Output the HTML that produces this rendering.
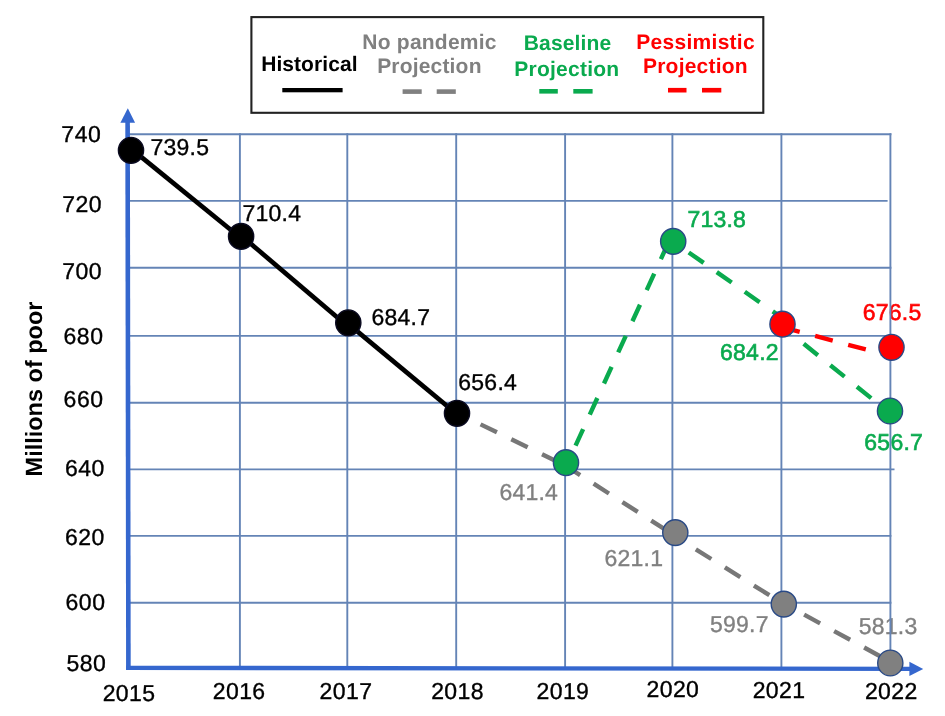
<!DOCTYPE html>
<html><head><meta charset="utf-8"><title>Millions of poor</title>
<style>
html,body{margin:0;padding:0;background:#fff;}
body{width:945px;height:716px;overflow:hidden;}
svg{display:block;font-family:"Liberation Sans",sans-serif;filter:blur(0.45px);text-rendering:geometricPrecision;}
</style></head><body>
<svg width="945" height="716" viewBox="0 0 945 716">
<rect width="945" height="716" fill="#fff"/>
<text id="d739.5" x="150.57" y="155.00" fill="#000" style="font-size:23px;letter-spacing:0.22px;stroke:#000;stroke-width:0.35px;">739.5</text>
<text id="d710.4" x="242.49" y="221.00" fill="#000" style="font-size:23px;letter-spacing:0.22px;stroke:#000;stroke-width:0.35px;">710.4</text>
<text id="d684.7" x="371.56" y="325.00" fill="#000" style="font-size:23px;letter-spacing:0.22px;stroke:#000;stroke-width:0.35px;">684.7</text>
<text id="d656.4" x="458.35" y="390.00" fill="#000" style="font-size:23px;letter-spacing:0.22px;stroke:#000;stroke-width:0.35px;">656.4</text>
<text id="d641.4" x="499.39" y="500.00" fill="#808080" style="font-size:23px;letter-spacing:0.22px;stroke:#808080;stroke-width:0.35px;">641.4</text>
<text id="d713.8" x="687.39" y="227.00" fill="#0AAA4E" style="font-size:23px;letter-spacing:0.22px;stroke:#0AAA4E;stroke-width:0.6px;">713.8</text>
<text id="d621.1" x="604.52" y="566.00" fill="#808080" style="font-size:23px;letter-spacing:0.22px;stroke:#808080;stroke-width:0.35px;">621.1</text>
<text id="d684.2" x="720.10" y="360.00" fill="#0AAA4E" style="font-size:23px;letter-spacing:0.22px;stroke:#0AAA4E;stroke-width:0.6px;">684.2</text>
<text id="d676.5" x="862.80" y="320.00" fill="#FF0000" style="font-size:23px;letter-spacing:0.22px;stroke:#FF0000;stroke-width:0.6px;">676.5</text>
<text id="d656.7" x="864.36" y="450.00" fill="#0AAA4E" style="font-size:23px;letter-spacing:0.22px;stroke:#0AAA4E;stroke-width:0.6px;">656.7</text>
<text id="d599.7" x="710.08" y="632.00" fill="#808080" style="font-size:23px;letter-spacing:0.22px;stroke:#808080;stroke-width:0.35px;">599.7</text>
<text id="d581.3" x="858.82" y="634.00" fill="#808080" style="font-size:23px;letter-spacing:0.22px;stroke:#808080;stroke-width:0.35px;">581.3</text>
<line x1="239.9" y1="133.29999999999998" x2="239.9" y2="668.6" stroke="#6484B6" stroke-width="1.9"/>
<line x1="347.3" y1="133.29999999999998" x2="347.3" y2="668.6" stroke="#6484B6" stroke-width="1.9"/>
<line x1="456.2" y1="133.29999999999998" x2="456.2" y2="668.6" stroke="#6484B6" stroke-width="1.9"/>
<line x1="565.1" y1="133.29999999999998" x2="565.1" y2="668.6" stroke="#6484B6" stroke-width="1.9"/>
<line x1="672.4" y1="133.29999999999998" x2="672.4" y2="668.6" stroke="#6484B6" stroke-width="1.9"/>
<line x1="781.4" y1="133.29999999999998" x2="781.4" y2="668.6" stroke="#6484B6" stroke-width="1.9"/>
<line x1="890.4" y1="133.29999999999998" x2="890.4" y2="668.6" stroke="#6484B6" stroke-width="1.9"/>
<line x1="127.9" y1="134.2" x2="891.4" y2="134.2" stroke="#6484B6" stroke-width="1.9"/>
<line x1="127.9" y1="200.9" x2="887.6" y2="200.9" stroke="#6484B6" stroke-width="1.9"/>
<line x1="127.9" y1="267.8" x2="891.4" y2="267.8" stroke="#6484B6" stroke-width="1.9"/>
<line x1="127.9" y1="335.9" x2="891.4" y2="335.9" stroke="#6484B6" stroke-width="1.9"/>
<line x1="127.9" y1="402.8" x2="891.4" y2="402.8" stroke="#6484B6" stroke-width="1.9"/>
<line x1="127.9" y1="469.4" x2="894.5" y2="469.4" stroke="#6484B6" stroke-width="1.9"/>
<line x1="127.9" y1="535.9" x2="891.4" y2="535.9" stroke="#6484B6" stroke-width="1.9"/>
<line x1="127.9" y1="602.8" x2="891.4" y2="602.8" stroke="#6484B6" stroke-width="1.9"/>
<line x1="127.6" y1="120" x2="128.4" y2="670.1" stroke="#3567CE" stroke-width="4.6"/>
<polygon points="127.8,108.2 120.4,122.8 135.1,122.8" fill="#3567CE"/>
<line x1="126.2" y1="667.9" x2="911" y2="668.85" stroke="#3567CE" stroke-width="4.4"/>
<polygon points="923.2,668.9 909.4,661.8 909.4,676.0" fill="#3567CE"/>
<line x1="457" y1="412.9" x2="566" y2="466" stroke="#777777" stroke-width="4.4" stroke-dasharray="18.2 16" stroke-dashoffset="8.0"/>
<line x1="566" y1="466" x2="675.3" y2="536" stroke="#777777" stroke-width="4.4" stroke-dasharray="18.2 16" stroke-dashoffset="1.4"/>
<line x1="675.3" y1="536.6" x2="783.8" y2="604.1" stroke="#777777" stroke-width="4.4" stroke-dasharray="18.2 16" stroke-dashoffset="10.0"/>
<line x1="783.8" y1="603.5" x2="890.3" y2="661.8" stroke="#777777" stroke-width="4.4" stroke-dasharray="18.2 16" stroke-dashoffset="11.0"/>
<line x1="566" y1="466.6" x2="673.3" y2="231.9" stroke="#0AAA4E" stroke-width="4.4" stroke-dasharray="18.2 16" stroke-dashoffset="11.2"/>
<line x1="673.3" y1="241.6" x2="782.3" y2="318.1" stroke="#0AAA4E" stroke-width="4.4" stroke-dasharray="18.2 16" stroke-dashoffset="15.3"/>
<line x1="782.3" y1="326.5" x2="890" y2="413.3" stroke="#0AAA4E" stroke-width="4.4" stroke-dasharray="18.2 16" stroke-dashoffset="6.7"/>
<line x1="782.3" y1="327.2" x2="891.4" y2="356.3" stroke="#FF0000" stroke-width="4.4" stroke-dasharray="18.2 16" stroke-dashoffset="0.2"/>
<line x1="131" y1="148.6" x2="241.1" y2="238.2" stroke="#000" stroke-width="4.7"/>
<line x1="241.1" y1="235.5" x2="348.3" y2="326.7" stroke="#000" stroke-width="4.7"/>
<line x1="348.3" y1="323.9" x2="457" y2="414.3" stroke="#000" stroke-width="4.7"/>
<ellipse cx="131.0" cy="150.3" rx="12.6" ry="12.9" fill="#000" stroke="#0a0a20" stroke-width="1.4"/>
<ellipse cx="241.1" cy="236.4" rx="12.6" ry="12.9" fill="#000" stroke="#0a0a20" stroke-width="1.4"/>
<ellipse cx="348.3" cy="322.8" rx="12.6" ry="12.9" fill="#000" stroke="#0a0a20" stroke-width="1.4"/>
<ellipse cx="457.0" cy="413.3" rx="12.6" ry="12.9" fill="#000" stroke="#0a0a20" stroke-width="1.4"/>
<ellipse cx="675.3" cy="532.6" rx="12.6" ry="12.9" fill="#808080" stroke="#2A4A86" stroke-width="1.4"/>
<ellipse cx="783.8" cy="604.1" rx="12.6" ry="12.9" fill="#808080" stroke="#2A4A86" stroke-width="1.4"/>
<ellipse cx="890.3" cy="663.0" rx="12.6" ry="12.9" fill="#808080" stroke="#2A4A86" stroke-width="1.4"/>
<ellipse cx="566.0" cy="462.7" rx="12.6" ry="12.9" fill="#0AAA4E" stroke="#2A4A86" stroke-width="1.4"/>
<ellipse cx="673.2" cy="241.4" rx="12.6" ry="12.9" fill="#0AAA4E" stroke="#2A4A86" stroke-width="1.4"/>
<ellipse cx="890.0" cy="411.0" rx="12.6" ry="12.9" fill="#0AAA4E" stroke="#2A4A86" stroke-width="1.4"/>
<ellipse cx="782.5" cy="324.2" rx="12.6" ry="12.9" fill="#FF0000" stroke="#2A4A86" stroke-width="1.4"/>
<ellipse cx="891.5" cy="347.3" rx="12.6" ry="12.9" fill="#FF0000" stroke="#2A4A86" stroke-width="1.4"/>
<text id="t740" x="61.34" y="142.00" fill="#000" style="font-size:23px;letter-spacing:0.55px;stroke:#000;stroke-width:0.35px;">740</text>
<text id="t720" x="62.14" y="212.00" fill="#000" style="font-size:23px;letter-spacing:0.55px;stroke:#000;stroke-width:0.35px;">720</text>
<text id="t700" x="62.14" y="279.00" fill="#000" style="font-size:23px;letter-spacing:0.55px;stroke:#000;stroke-width:0.35px;">700</text>
<text id="t680" x="63.47" y="344.00" fill="#000" style="font-size:23px;letter-spacing:0.55px;stroke:#000;stroke-width:0.35px;">680</text>
<text id="t660" x="63.56" y="407.00" fill="#000" style="font-size:23px;letter-spacing:0.55px;stroke:#000;stroke-width:0.35px;">660</text>
<text id="t640" x="64.95" y="476.00" fill="#000" style="font-size:23px;letter-spacing:0.55px;stroke:#000;stroke-width:0.35px;">640</text>
<text id="t620" x="64.95" y="545.00" fill="#000" style="font-size:23px;letter-spacing:0.55px;stroke:#000;stroke-width:0.35px;">620</text>
<text id="t600" x="65.53" y="610.00" fill="#000" style="font-size:23px;letter-spacing:0.55px;stroke:#000;stroke-width:0.35px;">600</text>
<text id="t580" x="66.42" y="671.00" fill="#000" style="font-size:23px;letter-spacing:0.55px;stroke:#000;stroke-width:0.35px;">580</text>
<text id="x2015" x="102.63" y="701.00" fill="#000" style="font-size:23px;letter-spacing:0.40px;stroke:#000;stroke-width:0.35px;">2015</text>
<text id="x2016" x="212.76" y="699.00" fill="#000" style="font-size:23px;letter-spacing:0.40px;stroke:#000;stroke-width:0.35px;">2016</text>
<text id="x2017" x="319.57" y="699.00" fill="#000" style="font-size:23px;letter-spacing:0.40px;stroke:#000;stroke-width:0.35px;">2017</text>
<text id="x2018" x="431.14" y="699.00" fill="#000" style="font-size:23px;letter-spacing:0.40px;stroke:#000;stroke-width:0.35px;">2018</text>
<text id="x2019" x="536.56" y="699.00" fill="#000" style="font-size:23px;letter-spacing:0.40px;stroke:#000;stroke-width:0.35px;">2019</text>
<text id="x2020" x="646.54" y="697.00" fill="#000" style="font-size:23px;letter-spacing:0.40px;stroke:#000;stroke-width:0.35px;">2020</text>
<text id="x2021" x="752.68" y="698.00" fill="#000" style="font-size:23px;letter-spacing:0.40px;stroke:#000;stroke-width:0.35px;">2021</text>
<text id="x2022" x="864.89" y="699.00" fill="#000" style="font-size:23px;letter-spacing:0.40px;stroke:#000;stroke-width:0.35px;">2022</text>
<text id="ytitle" transform="translate(42.00,476.44) rotate(-90)" fill="#000" style="font-size:23.5px;font-weight:bold;">Millions of poor</text>
<text id="lHist" x="261.16" y="71.00" fill="#000" style="font-size:21px;font-weight:bold;letter-spacing:0.07px;">Historical</text>
<text id="lNo" x="362.27" y="49.00" fill="#808080" style="font-size:21px;font-weight:bold;letter-spacing:0.24px;">No pandemic</text>
<text id="lProjG" x="377.16" y="73.00" fill="#808080" style="font-size:21px;font-weight:bold;letter-spacing:0.18px;">Projection</text>
<text id="lBase" x="523.83" y="50.00" fill="#0AAA4E" style="font-size:21px;font-weight:bold;letter-spacing:0.13px;">Baseline</text>
<text id="lProjGr" x="514.21" y="76.00" fill="#0AAA4E" style="font-size:21px;font-weight:bold;letter-spacing:0.25px;">Projection</text>
<text id="lPess" x="636.29" y="49.00" fill="#FF0000" style="font-size:21px;font-weight:bold;letter-spacing:0.28px;">Pessimistic</text>
<text id="lProjR" x="643.00" y="73.00" fill="#FF0000" style="font-size:21px;font-weight:bold;letter-spacing:0.21px;">Projection</text>
<rect x="251.4" y="17.1" width="511.9" height="95.7" fill="none" stroke="#222" stroke-width="2.1"/>
<rect x="282.3" y="88" width="60.3" height="4.3" fill="#000"/>
<rect x="402.6" y="89.3" width="19.1" height="4.6" fill="#808080"/>
<rect x="436.7" y="89.3" width="19.1" height="4.6" fill="#808080"/>
<rect x="539.3" y="89.0" width="18.5" height="4.6" fill="#0AAA4E"/>
<rect x="573.3" y="89.0" width="19.3" height="4.6" fill="#0AAA4E"/>
<rect x="668.0" y="87.9" width="18.5" height="4.6" fill="#FF0000"/>
<rect x="702.0" y="87.9" width="19.3" height="4.6" fill="#FF0000"/>
</svg>
</body></html>
